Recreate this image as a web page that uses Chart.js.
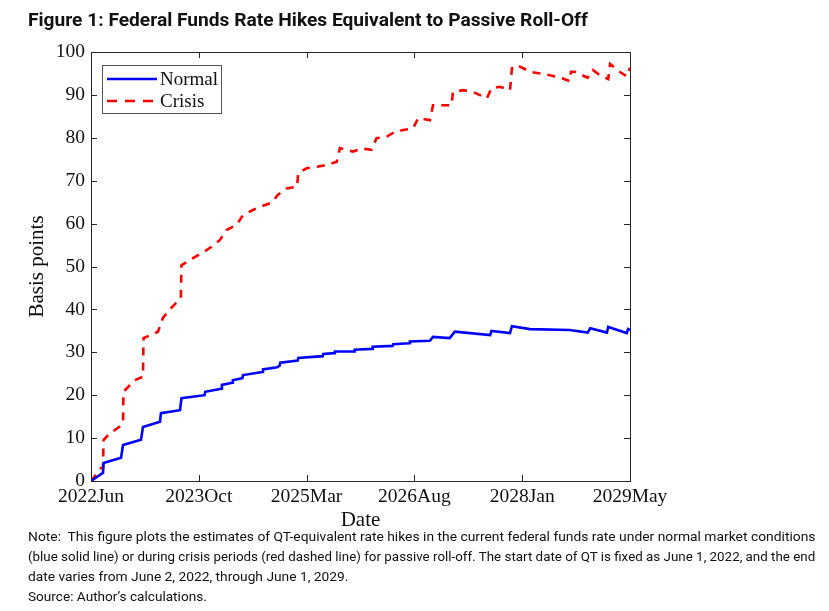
<!DOCTYPE html>
<html>
<head>
<meta charset="utf-8">
<script src="https://cdn.jsdelivr.net/npm/chart.js@4.4.1/dist/chart.umd.min.js"></script>
<style>
  body { margin: 0; background: #fff; }
  #wrap { position: relative; width: 829px; height: 611px; overflow: hidden; }
  #chart { position: absolute; left: 0; top: 0; }
  .txt { position: absolute; left: 28px; white-space: nowrap; transform-origin: 0 50%; color: #111; font-family: Roboto, "Noto Sans", sans-serif; }
  #title { top: 9px; font-size: 18px; font-weight: bold; }
  .note { font-size: 13px; }
</style>
</head>
<body>
<div id="wrap">
  <canvas id="chart" width="829" height="611"></canvas>
  <div id="title" class="txt" data-w="560">Figure 1: Federal Funds Rate Hikes Equivalent to Passive Roll-Off</div>
  <div class="txt note" style="top:529px" data-w="787">Note:&nbsp; This figure plots the estimates of QT-equivalent rate hikes in the current federal funds rate under normal market conditions</div>
  <div class="txt note" style="top:549px" data-w="787">(blue solid line) or during crisis periods (red dashed line) for passive roll-off. The start date of QT is fixed as June 1, 2022, and the end</div>
  <div class="txt note" style="top:569px" data-w="320">date varies from June 2, 2022, through June 1, 2029.</div>
  <div class="txt note" style="top:589px" data-w="179">Source: Author’s calculations.</div>
</div>
<script>
/* Figure 1 - QT-equivalent rate hikes, normal vs crisis */

// x values are months after June 2022
const xTickMonths = [0, 16.8, 33.6, 50.4, 67.2, 84];
const xTickLabels = ['2022Jun', '2023Oct', '2025Mar', '2026Aug', '2028Jan', '2029May'];
const yTicks = [0, 10, 20, 30, 40, 50, 60, 70, 80, 90, 100];

const normalMonths = [0, 1.87, 1.95, 4.68, 4.99, 7.79, 8.1, 10.75, 10.9, 13.87, 14.1, 17.7, 17.8,
  20.3, 20.4, 22.0, 22.1, 23.6, 23.7, 26.7, 26.8, 29.0, 29.4, 29.5, 32.2, 32.3, 36.1, 36.2,
  37.9, 38.0, 41.0, 41.1, 43.8, 43.9, 47.0, 47.1, 49.6, 49.7, 52.8, 53.3,
  55.9, 56.7, 62.2, 62.4, 65.3, 65.6, 68.4, 74.6, 77.4, 77.8, 80.4, 80.6, 83.5, 83.7, 84];
const normalValues = [0, 1.9, 4.2, 5.4, 8.4, 9.6, 12.6, 13.8, 15.8, 16.5, 19.3, 20.0, 20.8,
  21.5, 22.4, 22.9, 23.5, 24.0, 24.7, 25.4, 26.0, 26.5, 26.9, 27.6, 28.1, 28.7, 29.1, 29.6,
  29.8, 30.2, 30.2, 30.6, 30.8, 31.3, 31.5, 31.9, 32.1, 32.5, 32.7, 33.6,
  33.3, 34.8, 34.0, 35.0, 34.5, 36.1, 35.4, 35.2, 34.6, 35.6, 34.6, 35.9, 34.5, 35.4, 35.2];

const crisisMonths = [0, 1.56, 1.87, 1.95, 2.65, 4.47, 4.99, 5.06, 6.81, 8.1, 8.18, 10.44, 11.2,
  12.47, 14.0, 14.1, 15.4, 17.25, 18.8, 20.1, 21.1, 22.7, 23.7, 25.0, 26.3, 28.2, 29.1, 30.5,
  32.1, 32.3, 33.6, 35.4, 36.9, 38.3, 38.8, 40.8, 42.2, 43.7, 44.5, 46.1, 47.4, 48.6, 50.2, 51.0,
  52.8, 53.3, 56.2, 56.4, 58.0, 59.5, 61.7, 62.4, 63.7, 65.3, 65.6, 66.3, 68.4, 70.0, 71.5, 73.4,
  74.6, 74.8, 75.4, 77.4, 78.2, 79.3, 80.6, 80.9, 82.4, 83.5, 84];
const crisisValues = [0, 3, 3, 9.5, 10.7, 12.7, 13.5, 20.8, 23.5, 24.3, 33.3, 34.8, 38,
  40.3, 42.6, 50.3, 51.5, 53.1, 54.6, 56.2, 58.5, 59.7, 62.0, 63.0, 63.9, 64.9, 66.7, 68.2,
  68.6, 71.8, 72.9, 73.3, 73.7, 74.4, 77.6, 76.8, 77.5, 77.2, 79.9, 80.3, 81.4, 81.8, 82.2, 84.6,
  84.1, 87.6, 87.6, 90.7, 91.1, 90.7, 89.2, 91.5, 91.9, 91.1, 96.2, 97, 95.4, 95, 94.6, 93.9,
  93.2, 95.4, 95.4, 94, 95.8, 94.6, 93.7, 97.2, 95.4, 94.3, 96.3];

const toPoints = (xs, ys) => xs.map((x, i) => ({ x: x, y: ys[i] }));

// Fit the text lines to the widths of the original figure
document.querySelectorAll('.txt').forEach(el => {
    const target = parseFloat(el.dataset.w);
    el.style.transform = 'scaleX(' + (target / el.offsetWidth) + ')';
});

const serif = '"Liberation Serif", "DejaVu Serif", serif';

// Frame, inward ticks and boxed legend (MATLAB look)
const framePlugin = {
    id: 'frame',
    afterDraw(chart) {
        const ctx = chart.ctx;
        const a = chart.chartArea;
        const xs = chart.scales.x, ys = chart.scales.y;
        ctx.save();
        ctx.strokeStyle = '#262626';
        ctx.lineWidth = 1;
        ctx.beginPath();
        xTickMonths.forEach(v => {
            const px = Math.round(xs.getPixelForValue(v)) + 0.5;
            ctx.moveTo(px, a.bottom); ctx.lineTo(px, a.bottom - 6);
            ctx.moveTo(px, a.top); ctx.lineTo(px, a.top + 6);
        });
        yTicks.forEach(v => {
            const py = Math.round(ys.getPixelForValue(v)) + 0.5;
            ctx.moveTo(a.left, py); ctx.lineTo(a.left + 6, py);
            ctx.moveTo(a.right, py); ctx.lineTo(a.right - 6, py);
        });
        ctx.stroke();
        ctx.strokeRect(Math.round(a.left) + 0.5, Math.round(a.top) + 0.5,
            Math.round(a.right - a.left), Math.round(a.bottom - a.top));

        // legend box
        const lx = a.left + 11, ly = a.top + 13, lw = 119, lh = 48;
        ctx.fillStyle = '#fff';
        ctx.fillRect(lx, ly, lw, lh);
        ctx.strokeStyle = '#555';
        ctx.strokeRect(lx + 0.5, ly + 0.5, lw, lh);
        chart.data.datasets.forEach((ds, i) => {
            const yy = ly + 14 + i * 22;
            ctx.beginPath();
            ctx.strokeStyle = ds.borderColor;
            ctx.lineWidth = ds.borderWidth;
            ctx.setLineDash(ds.borderDash ? [10, 8] : []);
            ctx.moveTo(lx + 5, yy); ctx.lineTo(lx + 55, yy);
            ctx.stroke();
            ctx.setLineDash([]);
            ctx.fillStyle = '#111';
            ctx.font = '19px ' + serif;
            ctx.textBaseline = 'middle';
            ctx.fillText(ds.label, lx + 58, yy + 1);
        });
        ctx.restore();
    }
};

new Chart(document.getElementById('chart'), {
    type: 'scatter',
    data: {
        datasets: [
            {
                label: 'Normal',
                data: toPoints(normalMonths, normalValues),
                showLine: true,
                borderColor: '#0000ff',
                borderWidth: 2.6,
                pointRadius: 0,
                tension: 0,
            },
            {
                label: 'Crisis',
                data: toPoints(crisisMonths, crisisValues),
                showLine: true,
                borderColor: '#ff0000',
                borderWidth: 2.6,
                borderDash: [8, 7],
                pointRadius: 0,
                tension: 0,
            }
        ]
    },
    options: {
        responsive: false,
        animation: false,
        devicePixelRatio: 1,
        layout: { padding: { left: 0, top: 52, right: 199, bottom: 80 } },
        plugins: {
            legend: { display: false },
            tooltip: { enabled: false },
        },
        scales: {
            x: {
                type: 'linear',
                min: 0,
                max: 84,
                afterBuildTicks: s => { s.ticks = xTickMonths.map(v => ({ value: v })); },
                afterFit: s => { s.height = 50; },
                grid: { display: false, drawTicks: false },
                border: { display: false },
                ticks: {
                    autoSkip: false,
                    maxRotation: 0,
                    padding: 4,
                    color: '#111',
                    font: { family: serif, size: 19.5 },
                    callback: (v, i) => xTickLabels[i],
                },
                title: {
                    display: true,
                    text: 'Date',
                    color: '#111',
                    font: { family: serif, size: 21, lineHeight: 1 },
                    padding: { top: 0, bottom: 0 },
                },
            },
            y: {
                min: 0,
                max: 100,
                afterBuildTicks: s => { s.ticks = yTicks.map(v => ({ value: v })); },
                afterFit: s => { s.width = 91; },
                grid: { display: false, drawTicks: false },
                border: { display: false },
                ticks: {
                    padding: 6,
                    color: '#111',
                    font: { family: serif, size: 19.5 },
                },
                title: {
                    display: true,
                    text: 'Basis points',
                    color: '#111',
                    font: { family: serif, size: 21, lineHeight: 1.2 },
                    padding: { top: 25, bottom: 0 },
                },
            }
        }
    },
    plugins: [framePlugin]
});
</script>
</body>
</html>
